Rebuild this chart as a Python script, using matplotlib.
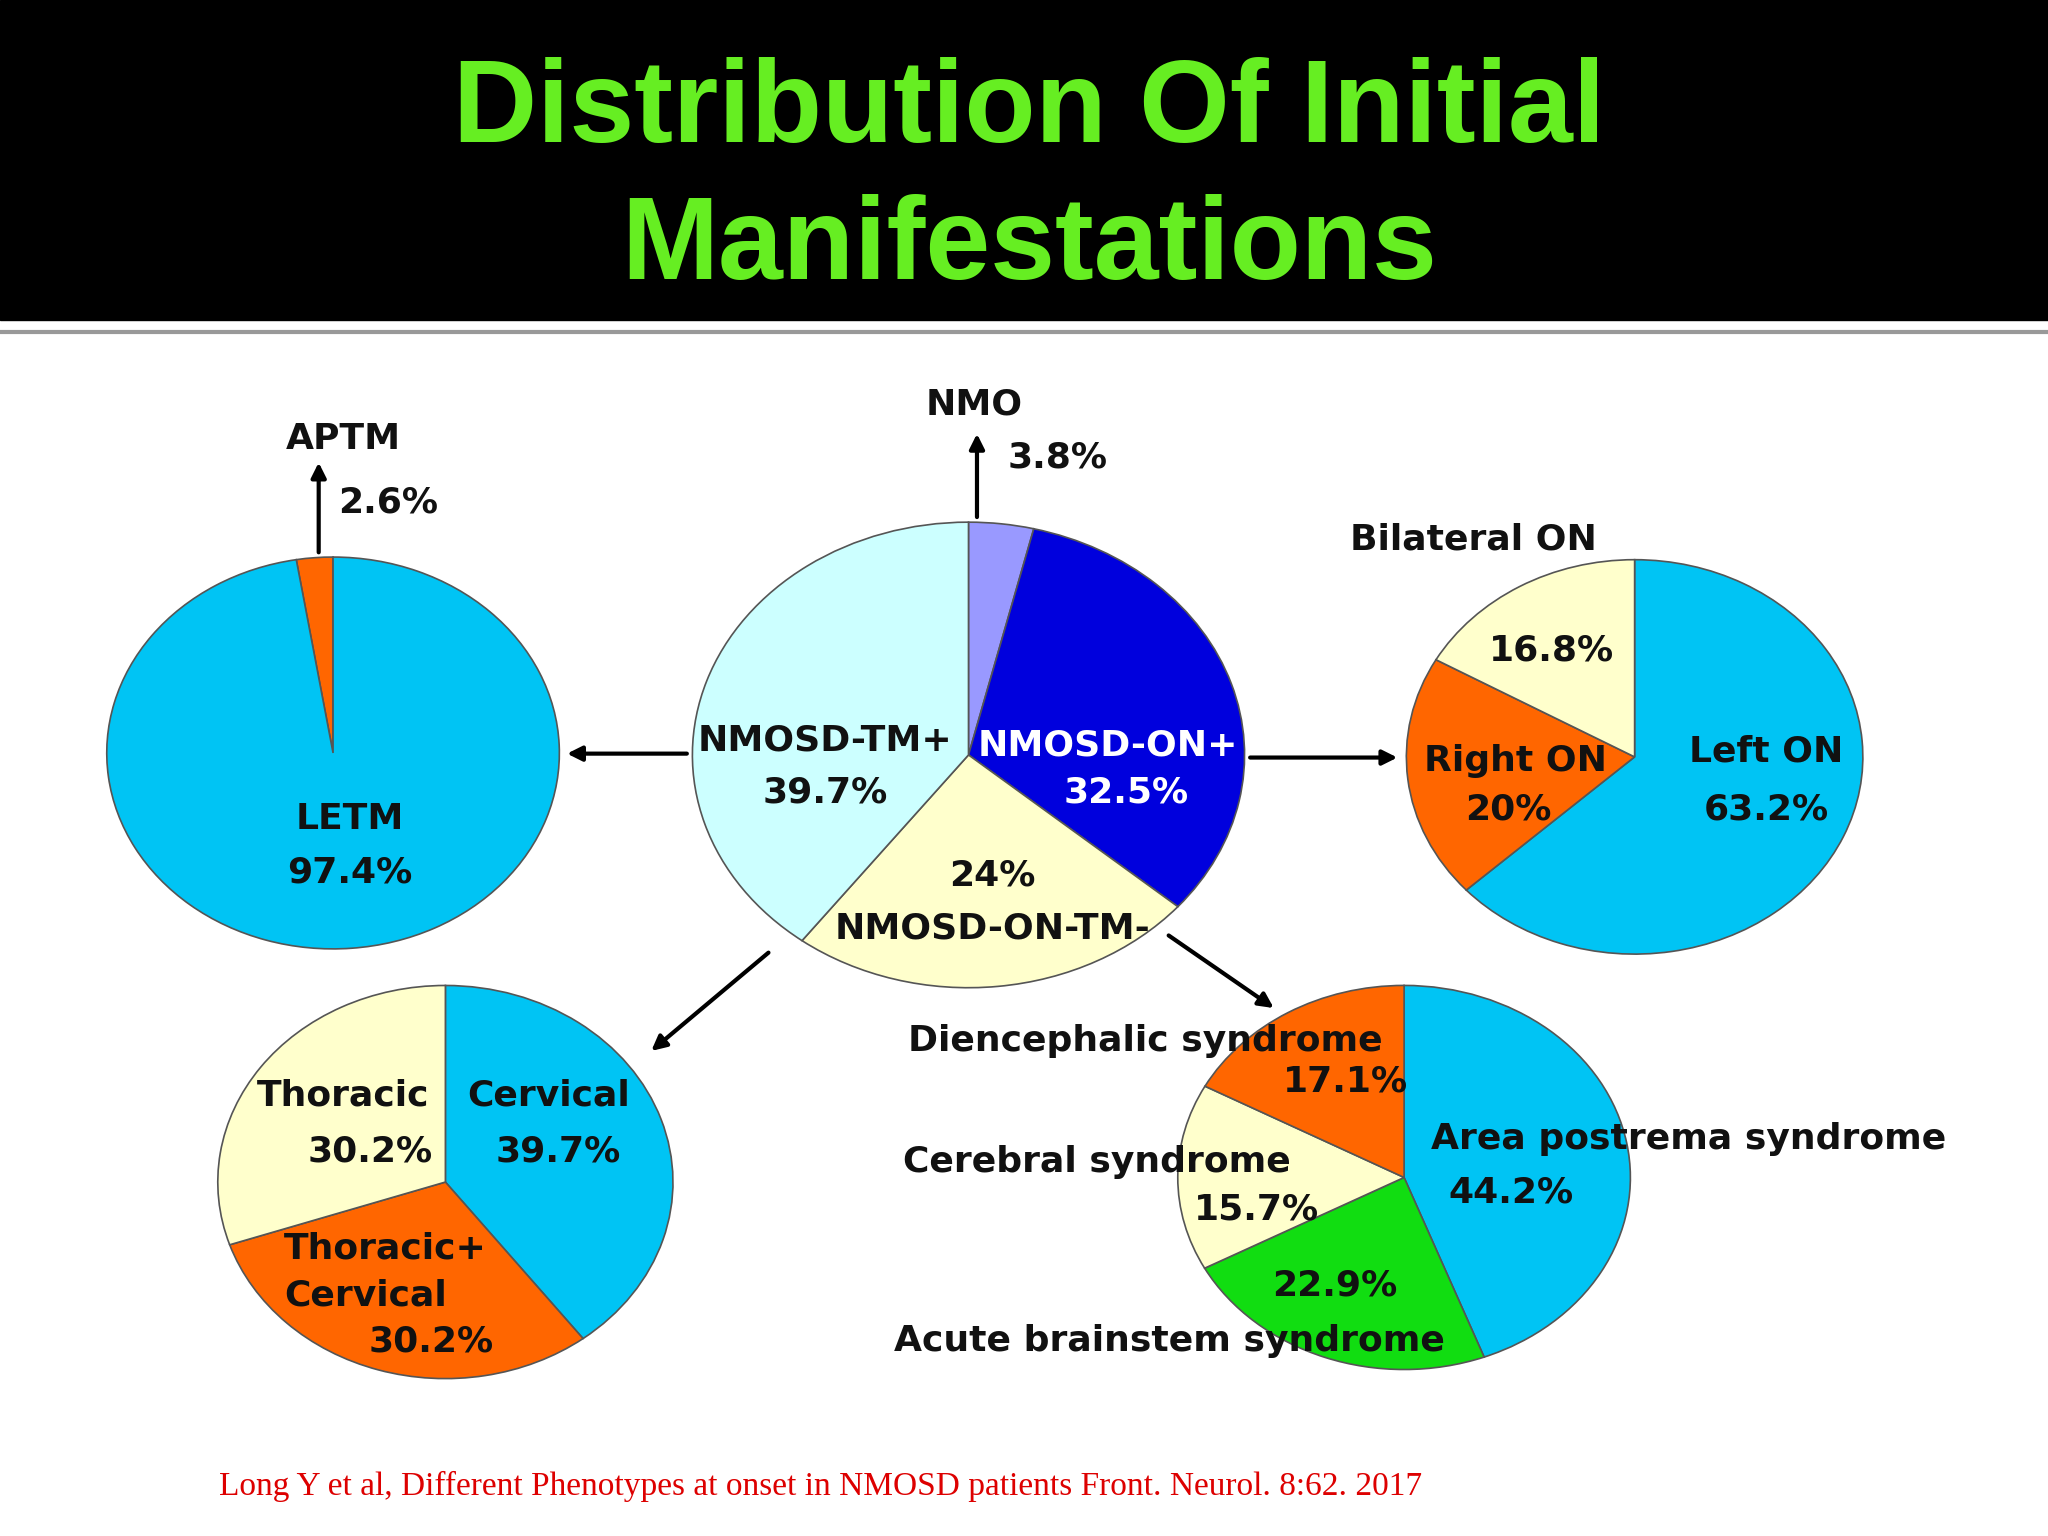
import matplotlib
matplotlib.use("Agg")
import matplotlib.pyplot as plt

W, H = 1568, 1176
title_lines = ["Distribution Of Initial", "Manifestations"]

letm_labels = ["APTM", "LETM"]; letm_vals = [2.6, 97.4]
center_labels = ["NMO", "NMOSD-ON+", "NMOSD-ON-TM-", "NMOSD-TM+"]; center_vals = [3.8, 32.5, 24.0, 39.7]
on_labels = ["Left ON", "Right ON", "Bilateral ON"]; on_vals = [63.2, 20.0, 16.8]
tm_labels = ["Cervical", "Thoracic+Cervical", "Thoracic"]; tm_vals = [39.7, 30.2, 30.2]
brain_labels = ["Area postrema syndrome", "Acute brainstem syndrome", "Cerebral syndrome", "Diencephalic syndrome"]
brain_vals = [44.2, 22.9, 15.7, 17.1]

CY = "#00c4f4"; OR = "#ff6600"; YE = "#ffffcc"
fig = plt.figure(figsize=(20.48, 15.36), dpi=100)
bg = fig.add_axes([0, 0, 1, 1]); bg.set_xlim(0, W); bg.set_ylim(H, 0); bg.axis("off")
bg.add_patch(plt.Rectangle((0, 0), W, 245, color="black"))
bg.plot([0, W], [254, 254], color="#999999", lw=3)
bg.text(788, 85, title_lines[0], color="#66ee22", fontsize=84, fontweight="bold", ha="center", va="center", family="Liberation Sans")
bg.text(788, 190, title_lines[1], color="#66ee22", fontsize=84, fontweight="bold", ha="center", va="center", family="Liberation Sans")

def pie(x0, x1, y0, y1, vals, colors, counter):
    ax = fig.add_axes([x0/W, 1-y1/H, (x1-x0)/W, (y1-y0)/H])
    ax.pie(vals, colors=colors, startangle=90, counterclock=counter,
           wedgeprops=dict(edgecolor="#555555", linewidth=1.2))
    ax.set_aspect("auto"); ax.set_xlim(-1.01, 1.01); ax.set_ylim(-1.01, 1.01); ax.axis("off")

pie(80, 430, 425, 728, letm_vals, [OR, CY], True)
pie(528, 955, 398, 758, center_vals, ["#9999ff", "#0000dd", YE, "#ccffff"], False)
pie(1075, 1428, 427, 732, on_vals, [CY, OR, YE], False)
pie(165, 517, 753, 1057, tm_vals, [CY, OR, YE], False)
pie(900, 1250, 753, 1050, brain_vals, [CY, "#11dd11", YE, OR], False)

ov = fig.add_axes([0, 0, 1, 1]); ov.set_xlim(0, W); ov.set_ylim(H, 0); ov.axis("off"); ov.patch.set_alpha(0)
def arr(x0, y0, x1, y1):
    ov.annotate("", xy=(x1, y1), xytext=(x0, y0),
                arrowprops=dict(arrowstyle="-|>", color="black", lw=3, mutation_scale=22))
arr(244, 425, 244, 352); arr(748, 398, 748, 330)
arr(528, 577, 432, 577); arr(955, 580, 1072, 580)
arr(590, 728, 497, 806); arr(893, 715, 977, 773)

kw = dict(fontsize=26, fontweight="bold", ha="center", va="center", family="DejaVu Sans", color="#111111")
def t(x, y, s, **k):
    d = dict(kw); d.update(k); ov.text(x, y, s, **d)
t(263, 336, "APTM"); t(297, 385, "2.6%")
t(746, 310, "NMO"); t(810, 350, "3.8%")
t(268, 627, "LETM"); t(268, 668, "97.4%")
t(632, 567, "NMOSD-TM+"); t(632, 607, "39.7%")
t(848, 571, "NMOSD-ON+", color="white"); t(862, 607, "32.5%", color="white")
t(760, 670, "24%"); t(760, 711, "NMOSD-ON-TM-")
t(1128, 413, "Bilateral ON"); t(1188, 498, "16.8%")
t(1160, 583, "Right ON"); t(1155, 620, "20%")
t(1352, 575, "Left ON"); t(1352, 620, "63.2%")
t(263, 839, "Thoracic"); t(283, 882, "30.2%")
t(420, 839, "Cervical"); t(427, 882, "39.7%")
t(295, 956, "Thoracic+"); t(280, 992, "Cervical"); t(330, 1027, "30.2%")
t(877, 797, "Diencephalic syndrome"); t(1030, 828, "17.1%")
t(840, 890, "Cerebral syndrome"); t(962, 926, "15.7%")
t(1293, 872, "Area postrema syndrome"); t(1157, 913, "44.2%")
t(1022, 984, "22.9%"); t(895, 1027, "Acute brainstem syndrome")
ov.text(168, 1138, "Long Y et al, Different Phenotypes at onset in NMOSD patients Front. Neurol. 8:62. 2017",
        color="#dd0000", fontsize=24, family="Liberation Serif", ha="left", va="center")
fig.savefig("out.png", dpi=100)
